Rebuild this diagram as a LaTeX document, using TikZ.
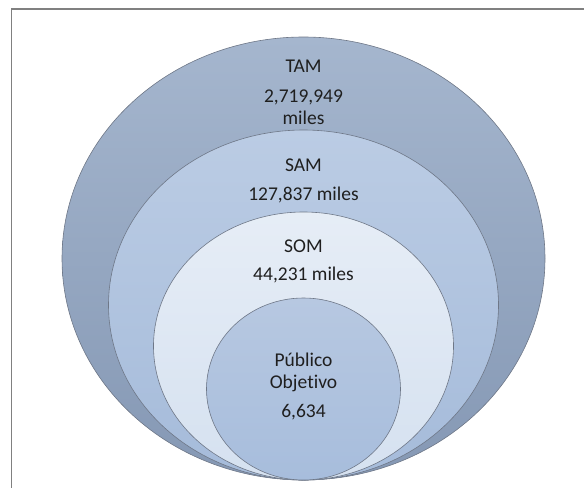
\documentclass[tikz,border=0pt]{standalone}
\usepackage{fontspec}
\setmainfont{Carlito}[Ligatures=NoCommon]
\usetikzlibrary{shapes.geometric}
\definecolor{TamTop}{HTML}{A5B6CE}
\definecolor{TamBot}{HTML}{8598B4}
\definecolor{SamTop}{HTML}{BBCCE4}
\definecolor{SamBot}{HTML}{A5BBDA}
\definecolor{SomTop}{HTML}{E6EDF6}
\definecolor{SomBot}{HTML}{D5E1F0}
\definecolor{PubTop}{HTML}{B7C8E1}
\definecolor{PubBot}{HTML}{A7BDDC}
\definecolor{RingLine}{HTML}{6E7787}
\definecolor{Frame}{HTML}{808080}

\begin{document}
\begin{tikzpicture}[x=1pt,y=-1pt,
  ring/.style={ellipse, draw=RingLine, line width=0.6pt, inner sep=0pt},
  lbl/.style={font=\fontsize{19.5}{22}\selectfont, align=center, text=black!88}]
\useasboundingbox (0,0) rectangle (584,488);
\draw[Frame, line width=1.4pt] (584,9) -- (11.5,9) -- (11.5,488);

\foreach \n/\cy/\rx/\ry/\c in {tam/258.5/241.5/221.5/Tam, sam/305/195/175/Sam,
                               som/346/150/134/Som, pub/389/97/91/Pub}
  \node[ring, top color=\c Top, bottom color=\c Bot,
        minimum width={2*\rx*1pt}, minimum height={2*\ry*1pt}] (\n) at (303.5,\cy) {};

\node[lbl] (tamt) at (303.5,66) {TAM};
\node[lbl] (tamv) at (303.5,107) {2,719,949\\miles};
\node[lbl] (samt) at (303.5,165) {SAM};
\node[lbl] (samv) at (303.5,195) {127,837 miles};
\node[lbl] (somt) at (303.5,246) {SOM};
\node[lbl] (somv) at (303.5,275) {44,231 miles};
\node[lbl] (pubt) at (303.5,372) {Público\\Objetivo};
\node[lbl] (pubv) at (303.5,412) {6,634};
\end{tikzpicture}
\end{document}
